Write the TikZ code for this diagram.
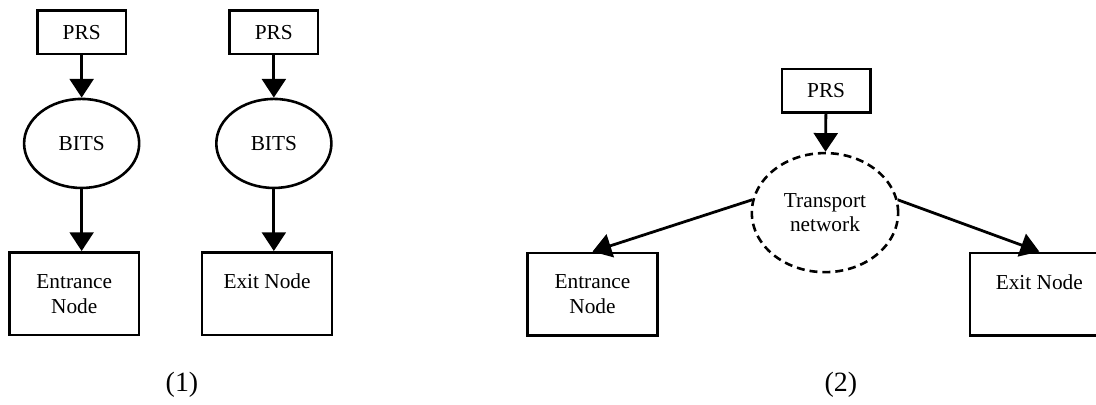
\documentclass[tikz,border=0pt]{standalone}
\usepackage{fontspec}
\setmainfont{Liberation Serif}
\usepackage{tikz}
\usetikzlibrary{arrows.meta,shapes.geometric}

\begin{document}
\begin{tikzpicture}[
      font=\fontsize{10.7}{12.5}\selectfont,
      unit/.style={rectangle, draw, line width=1.3pt, minimum width=1.56cm, minimum height=0.77cm, inner sep=0pt, align=center},
      site/.style={rectangle, draw, line width=1.3pt, minimum width=2.29cm, minimum height=1.46cm, inner sep=0pt, align=center},
      clock/.style={ellipse, draw, line width=1.3pt, minimum width=2.03cm, minimum height=1.57cm, inner sep=0pt, align=center},
      net/.style={ellipse, draw, dash pattern=on 4pt off 2.5pt, line width=1.3pt, minimum width=2.58cm, minimum height=2.1cm, inner sep=0pt, align=center},
      link/.style={-{Triangle[length=0.33cm, width=0.42cm]}, line width=1.4pt},
      caption/.style={font=\fontsize{14}{16}\selectfont}
    ]
      \useasboundingbox (0,0) rectangle (19.33,-7.13);

      % (1)
      \node[unit] (prs1) at (1.44,-0.57) {PRS};
      \node[clock] (bits1) at (1.44,-2.53) {BITS};
      \node[site] (ent1) at (1.31,-5.18) {Entrance\\Node};

      \node[unit] (prs2) at (4.83,-0.57) {PRS};
      \node[clock] (bits2) at (4.83,-2.53) {BITS};
      \node[site] (ex1) at (4.71,-5.18) {Exit Node\\\mbox{}};

      \draw[link] (prs1) -- (bits1);
      \draw[link] (bits1.south) -- (bits1.south |- ent1.north);
      \draw[link] (prs2) -- (bits2);
      \draw[link] (bits2.south) -- (bits2.south |- ex1.north);

      % (2)
      \node[unit] (prs3) at (14.57,-1.6) {PRS};
      \node[net] (tn) at (14.55,-3.75) {Transport\\network};
      \node[site] (ent2) at (10.45,-5.19) {Entrance\\Node};
      \node[site, minimum width=2.45cm] (ex2) at (18.33,-5.19) {Exit Node\\\mbox{}};

      \draw[link] (prs3) -- (tn);
      \draw[link] (tn.170) -- (ent2.north);
      \draw[link] (tn.10) -- (ex2.north);

      \node[caption] (cap1) at (3.21,-6.79) {(1)};
      \node[caption] (cap2) at (14.83,-6.79) {(2)};
    \end{tikzpicture}
\end{document}
